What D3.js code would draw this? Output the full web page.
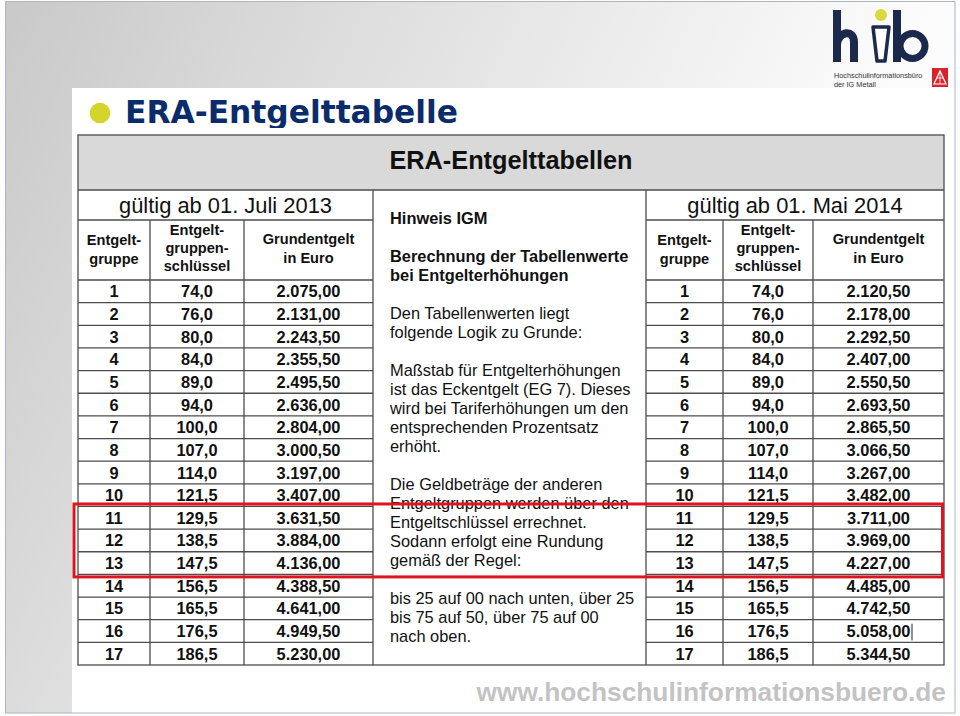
<!DOCTYPE html>
<html><head><meta charset="utf-8">
<script src="https://cdn.jsdelivr.net/npm/d3@7"></script>
<style>body{margin:0;background:#fff}svg{display:block}</style>
</head><body>
<svg id="c" width="960" height="716"></svg>
<script>
// ---- data ----
const groups = [1,2,3,4,5,6,7,8,9,10,11,12,13,14,15,16,17];
const keys = [74.0,76.0,80.0,84.0,89.0,94.0,100.0,107.0,114.0,121.5,129.5,138.5,147.5,156.5,165.5,176.5,186.5];
const pay2013 = [2075.00,2131.00,2243.50,2355.50,2495.50,2636.00,2804.00,3000.50,3197.00,3407.00,3631.50,3884.00,4136.00,4388.50,4641.00,4949.50,5230.00];
const pay2014 = [2120.50,2178.00,2292.50,2407.00,2550.50,2693.50,2865.50,3066.50,3267.00,3482.00,3711.00,3969.00,4227.00,4485.00,4742.50,5058.00,5344.50];
const highlighted = [11,12,13];
const slideTitle = "ERA-Entgelttabelle";
const tableTitle = "ERA-Entgelttabellen";
const periods = ["gültig ab 01. Juli 2013","gültig ab 01. Mai 2014"];
const colHeaders = [["Entgelt-","gruppe"],["Entgelt-","gruppen-","schlüssel"],["Grundentgelt","in Euro"]];
const noteParagraphs = [
  {bold:true, lines:["Hinweis IGM"]},
  {bold:true, lines:["Berechnung der Tabellenwerte","bei Entgelterhöhungen"]},
  {bold:false, lines:["Den Tabellenwerten liegt","folgende Logik zu Grunde:"]},
  {bold:false, lines:["Maßstab für Entgelterhöhungen","ist das Eckentgelt (EG 7). Dieses","wird bei Tariferhöhungen um den","entsprechenden Prozentsatz","erhöht."]},
  {bold:false, lines:["Die Geldbeträge der anderen","Entgeltgruppen werden über den","Entgeltschlüssel errechnet.","Sodann erfolgt eine Rundung","gemäß der Regel:"]},
  {bold:false, lines:["bis 25 auf 00 nach unten, über 25","bis 75 auf 50, über 75 auf 00","nach oben."]}
];
const footer = "www.hochschulinformationsbuero.de";
const logoLines = ["Hochschulinformationsbüro","der IG Metall"];

// ---- setup ----
const svg = d3.select("#c");
const de = d3.formatLocale({decimal:",", thousands:".", grouping:[3], currency:["","€"]});
const fPay = de.format(",.2f"), fKey = de.format(".1f");
const FONT = "'Liberation Sans', Arial, sans-serif";
const defs = svg.append("defs");

// background gradient
const bg = defs.append("linearGradient").attr("id","bg").attr("x1",0).attr("y1",0).attr("x2",1).attr("y2",0.35);
bg.append("stop").attr("offset",0).attr("stop-color","#c9c9c9");
bg.append("stop").attr("offset",0.45).attr("stop-color","#e4e4e4");
bg.append("stop").attr("offset",0.85).attr("stop-color","#fbfbfb");
bg.append("stop").attr("offset",1).attr("stop-color","#ffffff");
svg.append("rect").attr("width",960).attr("height",716).attr("fill","#fdfdfd");
svg.append("rect").attr("x",5).attr("y",2).attr("width",950).attr("height",711).attr("fill","url(#bg)");
svg.append("rect").attr("x",72).attr("y",88).attr("width",883).attr("height",625).attr("fill","#ffffff");
svg.append("rect").attr("x",5.5).attr("y",1.5).attr("width",949.5).attr("height",711.5).attr("fill","none").attr("stroke","#a9b6c6").attr("stroke-width",1);

// ---- logo ----
const navy = "#1b2a4c";
const lg = svg.append("g");
lg.append("path").attr("d","M837,10 V62").attr("stroke",navy).attr("stroke-width",8).attr("fill","none");
lg.append("path").attr("d","M837,44 C839,31 854,29 854,42 V62").attr("stroke",navy).attr("stroke-width",8).attr("fill","none");
lg.append("polygon").attr("points","873,27 889,27 885,61 877,61").attr("fill","#fff").attr("stroke",navy).attr("stroke-width",3.5).attr("stroke-linejoin","round");
lg.append("circle").attr("cx",881).attr("cy",15).attr("r",6).attr("fill","#d7da3a");
lg.append("path").attr("d","M897,10 V62").attr("stroke",navy).attr("stroke-width",8).attr("fill","none");
lg.append("circle").attr("cx",912.5).attr("cy",46).attr("r",12.5).attr("stroke",navy).attr("stroke-width",7).attr("fill","none");
lg.selectAll("text.lt").data(logoLines).join("text").attr("class","lt")
  .attr("x",834).attr("y",(d,i)=>78+i*9).attr("font-family",FONT).attr("font-size",7.3).attr("fill","#333").text(d=>d);
lg.append("rect").attr("x",932).attr("y",68).attr("width",16).attr("height",19).attr("fill","#d9232b");
lg.append("polygon").attr("points","940,71 946,84 934,84").attr("fill","none").attr("stroke","#fff").attr("stroke-width",1.2);
lg.append("path").attr("d","M937,78 H943 M940,71 V84").attr("stroke","#fff").attr("stroke-width",0.8);

// ---- slide title ----
defs.append("clipPath").attr("id","tclip").append("rect").attr("x",72).attr("y",88).attr("width",800).attr("height",40);
svg.append("circle").attr("cx",100).attr("cy",113).attr("r",10.3).attr("fill","#d3d52b");
svg.append("text").attr("clip-path","url(#tclip)").attr("x",125).attr("y",123)
  .attr("font-family","'DejaVu Sans', Verdana, sans-serif").attr("font-weight","bold").attr("font-size",31.3)
  .attr("fill","#0b2c6b").text(slideTitle);

// ---- table geometry ----
const T = {left:78, right:944, top:135, band:190, period:220, head:280, bottom:665};
const leftCols = [78,150,244,373];
const rightCols = [646,723,813,944];
const y = d3.scaleBand().domain(groups).range([T.head, T.bottom]);
const line = "#4d4d4d", lw = 1.3;
const tg = svg.append("g");

tg.append("rect").attr("x",T.left).attr("y",T.top).attr("width",T.right-T.left).attr("height",T.band-T.top).attr("fill","#d9d9d9");
tg.append("text").attr("x",(T.left+T.right)/2).attr("y",169).attr("text-anchor","middle")
  .attr("font-family",FONT).attr("font-weight","bold").attr("font-size",25.3).attr("fill","#111").text(tableTitle);

function drawSide(cols, pays, period) {
  const g = tg.append("g");
  // period title
  g.append("text").attr("x",(cols[0]+cols[3])/2).attr("y",213).attr("text-anchor","middle")
    .attr("font-family",FONT).attr("font-size",21.9).attr("fill","#111").text(period);
  // column headers
  const hb = [[245,264],[235,253,271],[244,263]];
  colHeaders.forEach((lines,ci)=>{
    g.selectAll(null).data(lines).join("text")
      .attr("x",(cols[ci]+cols[ci+1])/2).attr("y",(d,i)=>hb[ci][i]).attr("text-anchor","middle")
      .attr("font-family",FONT).attr("font-weight","bold").attr("font-size",14.6).attr("fill","#111").text(d=>d);
  });
  // data cells
  const rows = groups.map((gr,i)=>({g:gr, k:keys[i], p:pays[i]}));
  const cellTxt = [d=>String(d.g), d=>fKey(d.k), d=>fPay(d.p)];
  cellTxt.forEach((fn,ci)=>{
    g.selectAll(null).data(rows).join("text")
      .attr("x",(cols[ci]+cols[ci+1])/2).attr("y",d=>y(d.g)+y.bandwidth()/2+6)
      .attr("text-anchor","middle").attr("font-family",FONT).attr("font-weight","bold")
      .attr("font-size",16.4).attr("fill","#111").text(fn);
  });
  // horizontal lines
  const hy = [T.period, T.head].concat(groups.map(d=>y(d)+y.bandwidth())).slice(0,-1);
  g.selectAll(null).data(hy).join("line").attr("x1",cols[0]).attr("x2",cols[3])
    .attr("y1",d=>d).attr("y2",d=>d).attr("stroke",line).attr("stroke-width",lw);
  // inner vertical lines
  g.selectAll(null).data([cols[1],cols[2]]).join("line").attr("x1",d=>d).attr("x2",d=>d)
    .attr("y1",T.period).attr("y2",T.bottom).attr("stroke",line).attr("stroke-width",lw);
  return g;
}
drawSide(leftCols, pay2013, periods[0]);
const rg = drawSide(rightCols, pay2014, periods[1]);
// text cursor after 5.058,00
rg.append("line").attr("x1",912).attr("x2",912).attr("y1",y(16)+4).attr("y2",y(16)+y.bandwidth()-2)
  .attr("stroke","#222").attr("stroke-width",1);

// outer frame and panel lines
tg.append("rect").attr("x",T.left).attr("y",T.top).attr("width",T.right-T.left).attr("height",T.bottom-T.top)
  .attr("fill","none").attr("stroke",line).attr("stroke-width",lw);
tg.append("line").attr("x1",T.left).attr("x2",T.right).attr("y1",T.band).attr("y2",T.band).attr("stroke",line).attr("stroke-width",lw);
tg.selectAll(null).data([leftCols[3], rightCols[0]]).join("line").attr("x1",d=>d).attr("x2",d=>d)
  .attr("y1",T.band).attr("y2",T.bottom).attr("stroke",line).attr("stroke-width",lw);

// ---- note text ----
let li = 0;
noteParagraphs.forEach((p,pi)=>{
  p.lines.forEach(l=>{
    tg.append("text").attr("x",390).attr("y",224+19*(li+pi)).attr("font-family",FONT)
      .attr("font-weight",p.bold?"bold":"normal").attr("font-size",16.4).attr("fill","#111").text(l);
    li++;
  });
});

// ---- highlight box ----
const hs = highlighted.map(d=>y(d));
svg.append("rect").attr("x",74).attr("y",d3.min(hs)-2.5).attr("width",868.5)
  .attr("height",d3.max(hs)+y.bandwidth()-d3.min(hs)+5).attr("fill","none").attr("stroke","#e0141c").attr("stroke-width",3);

// ---- footer ----
svg.append("text").attr("x",946).attr("y",701).attr("text-anchor","end").attr("font-family",FONT)
  .attr("font-weight","bold").attr("font-size",26.3).attr("fill","#c3c3c3").text(footer);
</script>
</body></html>
